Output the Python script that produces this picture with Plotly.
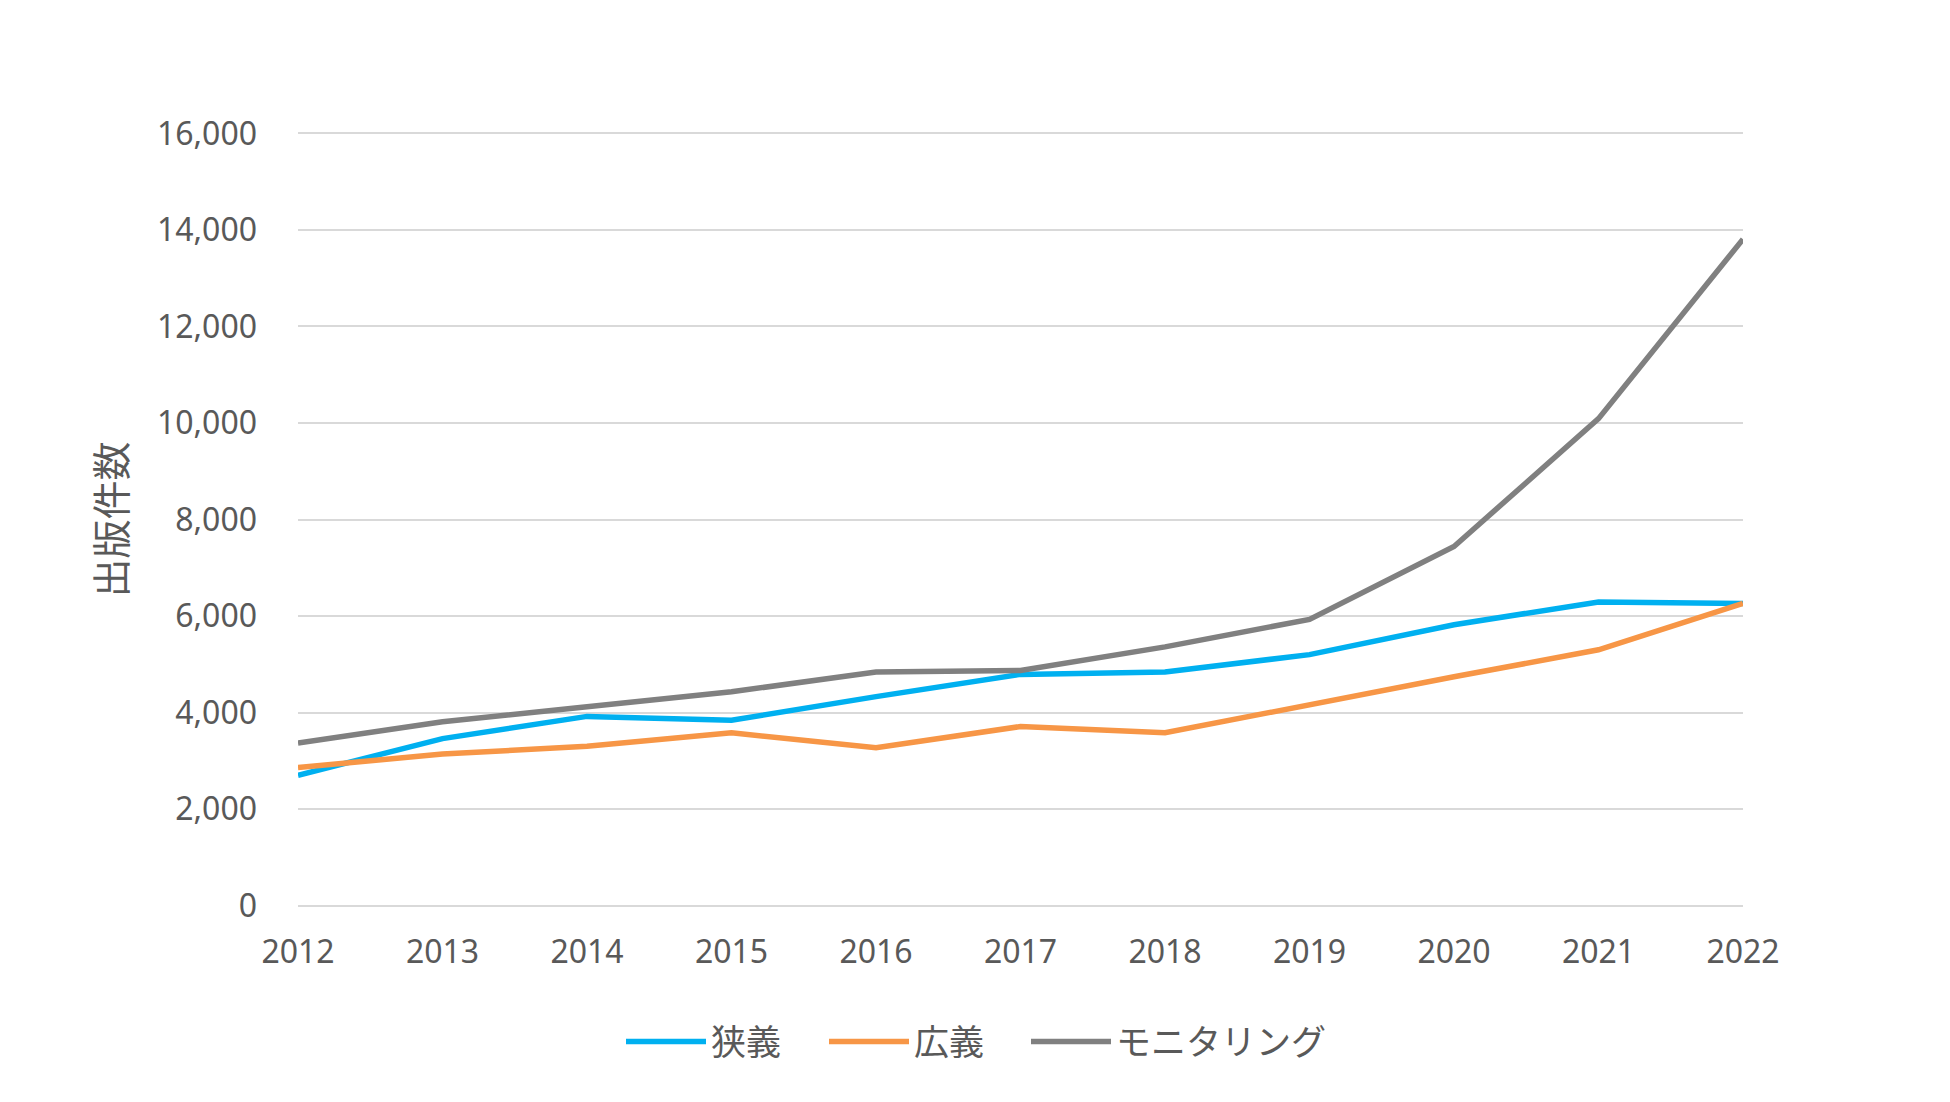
import plotly.graph_objects as go

years = [2012, 2013, 2014, 2015, 2016, 2017, 2018, 2019, 2020, 2021, 2022]
narrow = [2700, 3460, 3920, 3840, 4330, 4790, 4840, 5200, 5820, 6290, 6260]
broad = [2860, 3140, 3300, 3580, 3270, 3710, 3580, 4170, 4740, 5300, 6260]
monitoring = [3370, 3810, 4120, 4430, 4840, 4870, 5360, 5930, 7440, 10090, 13810]
names = ["狭義", "広義", "モニタリング"]
colors = ["#00B0F0", "#F79646", "#808080"]
y_ticks = [0, 2000, 4000, 6000, 8000, 10000, 12000, 14000, 16000]

FONT = "Noto Sans, Noto Sans CJK JP, sans-serif"
legend_ids = ["legend", "legend2", "legend3"]
legend_x = [613, 816, 1018]

fig = go.Figure()
for name, vals, col, lid in zip(names, [narrow, broad, monitoring], colors, legend_ids):
    fig.add_trace(go.Scatter(x=years, y=vals, name=name, mode="lines",
                             line=dict(color=col, width=5.5), legend=lid))

legend_common = dict(orientation="h", xref="container", yref="container",
                     xanchor="left", y=0.062, yanchor="middle",
                     font=dict(size=35, color="#595959"), itemwidth=80,
                     bgcolor="rgba(0,0,0,0)")
layout_legends = {}
for lid, lx in zip(legend_ids, legend_x):
    layout_legends[lid] = dict(legend_common, x=lx / 1950)

fig.update_layout(
    width=1950, height=1102,
    margin=dict(l=290, r=215, t=123.5, b=202.5, autoexpand=False),
    paper_bgcolor="white", plot_bgcolor="white",
    font=dict(family=FONT, color="#595959", size=32),
    showlegend=True,
    **layout_legends,
)
fig.update_xaxes(range=[2012, 2022], tickvals=years, ticktext=[str(y) for y in years],
                 showgrid=False, zeroline=False, showline=False, ticks="",
                 tickfont=dict(size=32, color="#595959"), ticklabelstandoff=23)
fig.update_yaxes(range=[-30, 16030], tickvals=y_ticks, tickformat=",d",
                 showgrid=True, gridcolor="#D9D9D9", gridwidth=1.5,
                 zeroline=False, showline=False, ticks="",
                 tickfont=dict(size=32, color="#595959"), ticklabelstandoff=40,
                 title=dict(text="出版件数", font=dict(size=39, color="#595959"), standoff=18))

fig.write_html("out.html")
